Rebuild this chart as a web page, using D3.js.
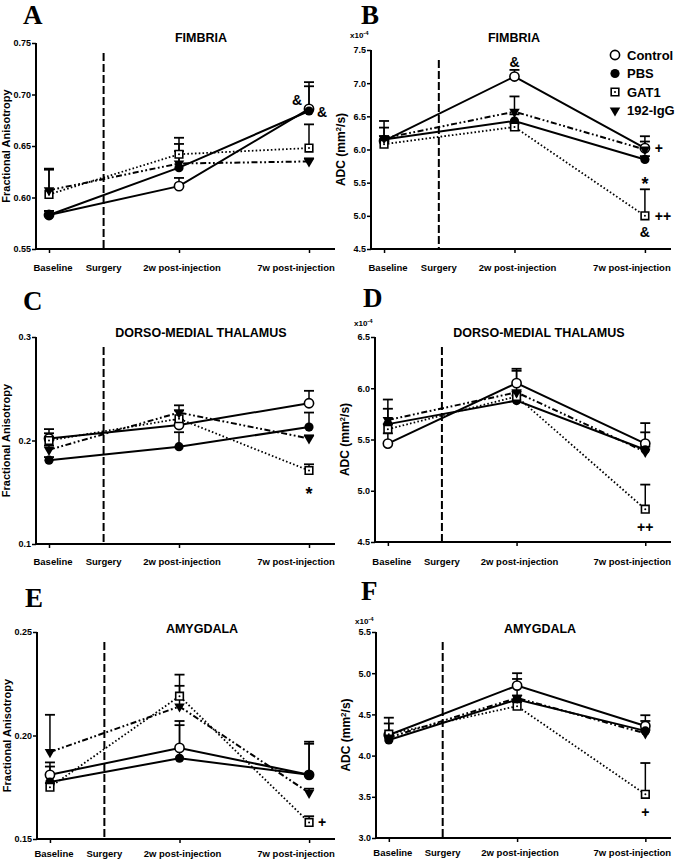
<!DOCTYPE html>
<html>
<head>
<meta charset="utf-8">
<script src="https://cdn.jsdelivr.net/npm/d3@7"></script>
<style>
  html, body { margin: 0; padding: 0; background: #fff; }
  svg { display: block; }
  text { font-family: "Liberation Sans", Arial, Helvetica, sans-serif; font-weight: bold; fill: #000; }
</style>
</head>
<body>
<svg id="chart" width="676" height="862"></svg>
<script>
// ---------- DATA ----------
const timeLabels = ["Baseline", "Surgery", "2w post-injection", "7w post-injection"];
const timePos = [0, 0.42, 1, 2];          // relative time positions of the four labels
const measuredIdx = [0, 2, 3];            // measurement times (Baseline, 2w, 7w)
const seriesNames = ["Control", "PBS", "GAT1", "192-IgG"];

// rows = series (Control, PBS, GAT1, 192-IgG), cols = Baseline, 2w, 7w
const fimbriaFA     = [[0.583, 0.611, 0.686], [0.583, 0.629, 0.684], [0.603, 0.642, 0.648], [0.607, 0.633, 0.635]];
const fimbriaFA_sem = [[0.004, 0.008, 0.026], [0.004, 0.016, 0.024], [0.025, 0.016, 0.023], [0.020, 0.019, 0.003]];

const fimbriaADC     = [[6.13, 7.10, 6.02], [6.15, 6.43, 5.85], [6.08, 6.34, 5.00], [6.17, 6.57, 6.00]];
const fimbriaADC_sem = [[0.30, 0.10, 0.18], [0.05, 0.10, 0.05], [0.05, 0.05, 0.40], [0.16, 0.23, 0.12]];

const thalamusFA     = [[0.202, 0.215, 0.236], [0.181, 0.194, 0.213], [0.200, 0.221, 0.171], [0.191, 0.227, 0.202]];
const thalamusFA_sem = [[0.009, 0.005, 0.012], [0.003, 0.014, 0.014], [0.007, 0.008, 0.006], [0.004, 0.007, 0.003]];

const thalamusADC     = [[5.46, 6.05, 5.46], [5.65, 5.88, 5.40], [5.60, 5.92, 4.82], [5.69, 5.96, 5.38]];
const thalamusADC_sem = [[0.10, 0.14, 0.20], [0.15, 0.05, 0.17], [0.05, 0.05, 0.24], [0.20, 0.21, 0.05]];

const amygdalaFA     = [[0.181, 0.194, 0.181], [0.1775, 0.189, 0.181], [0.175, 0.219, 0.158], [0.192, 0.214, 0.1723]];
const amygdalaFA_sem = [[0.006, 0.013, 0.016], [0.0075, 0.016, 0.015], [0.002, 0.0104, 0.003], [0.018, 0.010, 0.002]];

const amygdalaADC     = [[4.25, 4.85, 4.36], [4.19, 4.68, 4.30], [4.26, 4.60, 3.53], [4.22, 4.70, 4.27]];
const amygdalaADC_sem = [[0.14, 0.15, 0.13], [0.05, 0.05, 0.12], [0.20, 0.05, 0.38], [0.05, 0.23, 0.05]];

const faTicksFimbria = [0.55, 0.60, 0.65, 0.70, 0.75];
const adcTicksFimbria = [4.5, 5.0, 5.5, 6.0, 6.5, 7.0, 7.5];
const faTicksThalamus = [0.1, 0.2, 0.3];
const adcTicksThalamus = [4.5, 5.0, 5.5, 6.0, 6.5];
const faTicksAmygdala = [0.15, 0.20, 0.25];
const adcTicksAmygdala = [3.0, 3.5, 4.0, 4.5, 5.0, 5.5];

// significance marks: panel, series index, measurement index, symbol
const marks = [
  ["A", 0, 2, "&"], ["A", 1, 2, "&"],
  ["B", 0, 1, "&"], ["B", 0, 2, "+"], ["B", 2, 2, "*"], ["B", 2, 2, "++"], ["B", 2, 2, "&"],
  ["C", 2, 2, "*"],
  ["D", 2, 2, "++"],
  ["E", 2, 2, "+"],
  ["F", 2, 2, "+"]
];

// ---------- LAYOUT ----------
const panels = [
  { id: "A", title: "FIMBRIA", mean: fimbriaFA, sem: fimbriaFA_sem, ticks: faTicksFimbria, fmt: ".2f", kind: "FA",
    left: 36, right: 335, top: 43, bottom: 249, letter: [23, 24], titleXY: [201, 42], labelY: 271 },
  { id: "B", title: "FIMBRIA", mean: fimbriaADC, sem: fimbriaADC_sem, ticks: adcTicksFimbria, fmt: ".1f", kind: "ADC",
    left: 371, right: 671, top: 50, bottom: 249, letter: [361, 24], titleXY: [514, 42], labelY: 271, expY: 38, legend: true },
  { id: "C", title: "DORSO-MEDIAL THALAMUS", mean: thalamusFA, sem: thalamusFA_sem, ticks: faTicksThalamus, fmt: ".1f", kind: "FA",
    left: 36, right: 335, top: 337, bottom: 544, letter: [23, 310], titleXY: [201, 337], labelY: 565 },
  { id: "D", title: "DORSO-MEDIAL THALAMUS", mean: thalamusADC, sem: thalamusADC_sem, ticks: adcTicksThalamus, fmt: ".1f", kind: "ADC",
    left: 375, right: 671, top: 337, bottom: 542, letter: [363, 307], titleXY: [539, 337], labelY: 565, expY: 326 },
  { id: "E", title: "AMYGDALA", mean: amygdalaFA, sem: amygdalaFA_sem, ticks: faTicksAmygdala, fmt: ".2f", kind: "FA",
    left: 37, right: 335, top: 632, bottom: 839, letter: [25, 607], titleXY: [202, 633], labelY: 857 },
  { id: "F", title: "AMYGDALA", mean: amygdalaADC, sem: amygdalaADC_sem, ticks: adcTicksAmygdala, fmt: ".1f", kind: "ADC",
    left: 376, right: 671, top: 632, bottom: 838, letter: [361, 600], titleXY: [540, 633], labelY: 856, expY: 624 }
];

// horizontal nudges of the category labels relative to their tick
const labelNudge = [4, 0, 3, -13];

// offsets of significance marks relative to their point
const markOffsets = {
  "A|0|&": [-12, -9], "A|1|&": [13, 1],
  "B|0|&": [0, -15], "B|0|+": [14, 0], "B|2|*": [0, -37], "B|2|++": [18, 0], "B|2|&": [0, 16],
  "C|2|*": [0, 18], "D|2|++": [0, 18], "E|2|+": [13, 0], "F|2|+": [0, 18]
};

const lineStyles = [
  { dash: null, width: 2 },
  { dash: null, width: 2 },
  { dash: "1.6,2.2", width: 1.8 },
  { dash: "6,2.5,1.8,2.5,1.8,2.5", width: 2 }
];

const svg = d3.select("#chart");

function drawMarker(g, s, x, y) {
  if (s === 0) {
    g.append("circle").attr("cx", x).attr("cy", y).attr("r", 4.6)
      .attr("fill", "#fff").attr("stroke", "#000").attr("stroke-width", 1.6);
  } else if (s === 1) {
    g.append("circle").attr("cx", x).attr("cy", y).attr("r", 4.6).attr("fill", "#000");
  } else if (s === 2) {
    g.append("path").attr("d", d3.symbol(d3.symbolSquare, 58)())
      .attr("transform", `translate(${x},${y})`)
      .attr("fill", "#fff").attr("stroke", "#000").attr("stroke-width", 1.6);
    g.append("circle").attr("cx", x).attr("cy", y).attr("r", 1).attr("fill", "#000");
  } else {
    g.append("path").attr("d", d3.symbol(d3.symbolTriangle, 48)())
      .attr("transform", `translate(${x},${y}) rotate(180)`)
      .attr("fill", "#000");
  }
}

panels.forEach(p => {
  const g = svg.append("g");
  const x = d3.scaleLinear().domain([-0.1, 2.2]).range([p.left, p.right]);
  const y = d3.scaleLinear().domain(d3.extent(p.ticks)).range([p.bottom, p.top]);

  // panel letter
  g.append("text").attr("x", p.letter[0]).attr("y", p.letter[1])
    .style("font-family", "'Liberation Serif', 'Times New Roman', serif")
    .style("font-size", "27px").text(p.id);

  // title
  g.append("text").attr("x", p.titleXY[0]).attr("y", p.titleXY[1])
    .attr("text-anchor", "middle").style("font-size", "12.5px").text(p.title);

  // y axis
  const yAxis = d3.axisLeft(y).tickValues(p.ticks).tickFormat(d3.format(p.fmt)).tickSizeOuter(0).tickSize(4);
  const ya = g.append("g").attr("transform", `translate(${p.left},0)`).call(yAxis);
  ya.select(".domain").attr("stroke-width", 2).attr("d", `M0,${p.top}V${p.bottom + 1}`);
  ya.selectAll(".tick line").attr("stroke-width", 1.5);
  ya.selectAll(".tick text").style("font-size", "9px").style("font-weight", "bold")
    .style("font-family", "'Liberation Sans', Arial, sans-serif").attr("x", -5);

  // x axis
  const xAxis = d3.axisBottom(x).tickValues(measuredIdx.map(i => timePos[i])).tickFormat("").tickSize(4).tickSizeOuter(0);
  const xa = g.append("g").attr("transform", `translate(0,${p.bottom})`).call(xAxis);
  xa.select(".domain").attr("stroke-width", 2).attr("d", `M${p.left - 1},0H${p.right}`);
  xa.selectAll(".tick line").attr("stroke-width", 1.5);

  // x labels
  g.selectAll(".xlab").data(timeLabels).join("text")
    .attr("x", (d, i) => x(timePos[i]) + labelNudge[i]).attr("y", p.labelY)
    .attr("text-anchor", "middle").style("font-size", "9.5px").text(d => d);

  // surgery dashed line
  g.append("line").attr("x1", x(timePos[1])).attr("x2", x(timePos[1]))
    .attr("y1", p.top + 10).attr("y2", p.bottom)
    .attr("stroke", "#000").attr("stroke-width", 2).attr("stroke-dasharray", "8,3");

  // y label
  const yl = g.append("text")
    .attr("transform", `translate(${p.left - 26},${(p.top + p.bottom) / 2}) rotate(-90)`)
    .attr("text-anchor", "middle").style("font-size", "11px");
  if (p.kind === "FA") {
    yl.text("Fractional Anisotropy");
  } else {
    yl.style("font-size", "12px");
    yl.append("tspan").text("ADC (mm");
    yl.append("tspan").attr("dy", -4).style("font-size", "8px").text("2");
    yl.append("tspan").attr("dy", 4).text("/s)");
    const ex = g.append("text").attr("x", p.left - 21).attr("y", p.expY).style("font-size", "8px");
    ex.append("tspan").text("x10");
    ex.append("tspan").attr("dy", -3).style("font-size", "6px").text("-4");
  }

  // lines
  const line = d3.line().x(d => x(d.t)).y(d => y(d.v));
  p.mean.forEach((row, s) => {
    const pts = row.map((v, k) => ({ t: timePos[measuredIdx[k]], v }));
    g.append("path").datum(pts).attr("d", line).attr("fill", "none")
      .attr("stroke", "#000").attr("stroke-width", lineStyles[s].width)
      .attr("stroke-dasharray", lineStyles[s].dash);
  });

  // error bars (upper only)
  p.mean.forEach((row, s) => {
    row.forEach((v, k) => {
      const cx = x(timePos[measuredIdx[k]]);
      const top = y(v + p.sem[s][k]);
      g.append("line").attr("x1", cx).attr("x2", cx).attr("y1", y(v)).attr("y2", top)
        .attr("stroke", "#000").attr("stroke-width", 1.5);
      g.append("line").attr("x1", cx - 5).attr("x2", cx + 5).attr("y1", top).attr("y2", top)
        .attr("stroke", "#000").attr("stroke-width", 1.8);
    });
  });

  // markers
  p.mean.forEach((row, s) => {
    row.forEach((v, k) => drawMarker(g, s, x(timePos[measuredIdx[k]]), y(v)));
  });

  // significance marks
  marks.filter(m => m[0] === p.id).forEach(m => {
    const off = markOffsets[`${m[0]}|${m[1]}|${m[3]}`];
    const px = x(timePos[measuredIdx[m[2]]]) + off[0];
    const py = y(p.mean[m[1]][m[2]]) + off[1];
    g.append("text").attr("x", px).attr("y", py).attr("text-anchor", "middle")
      .attr("dominant-baseline", "central")
      .style("font-size", m[3] === "*" ? "18px" : "14px")
      .attr("dy", m[3] === "*" ? 5 : 0)
      .text(m[3]);
  });

  // legend
  if (p.legend) {
    seriesNames.forEach((name, s) => {
      const ly = 55 + s * 18.5;
      drawMarker(g, s, 615, ly);
      g.append("text").attr("x", 627).attr("y", ly).attr("dominant-baseline", "central")
        .style("font-size", "13px").text(name);
    });
  }
});
</script>
</body>
</html>
